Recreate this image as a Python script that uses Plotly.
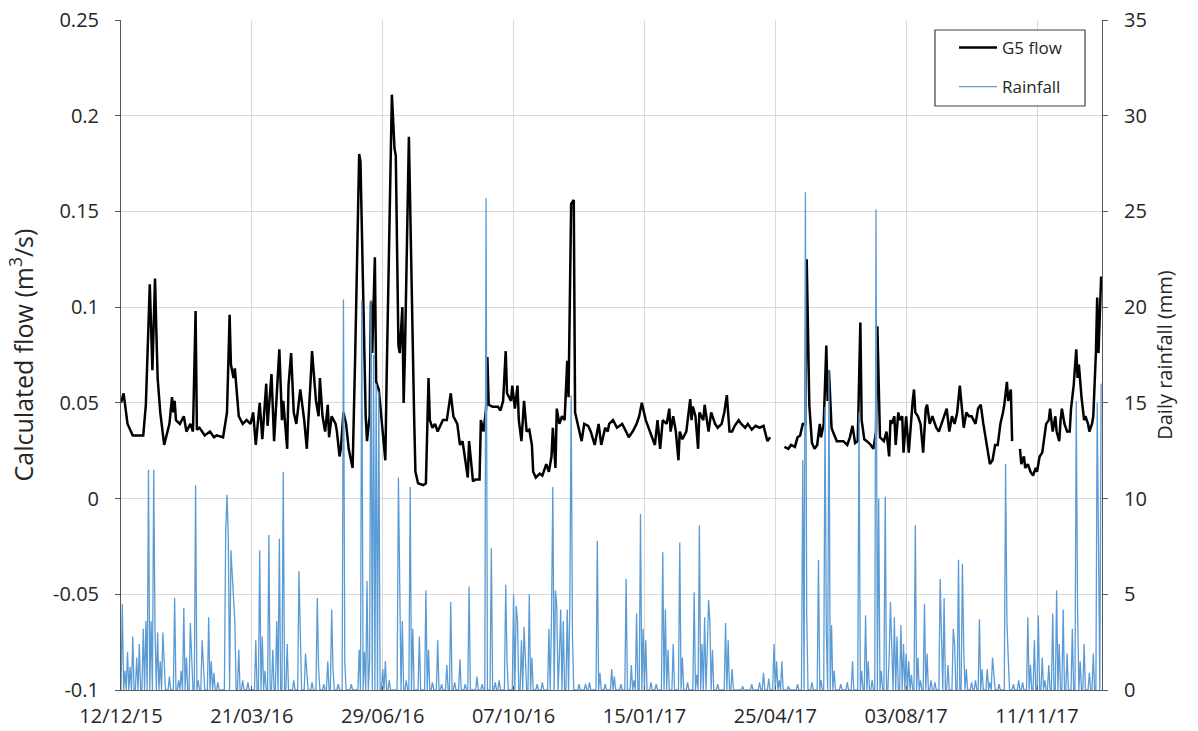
import pandas as pd
import plotly.graph_objects as go

START = "2015-12-12"
END_X = "2017-12-30 16:00"

x_tick_dates = ["2015-12-12", "2016-03-21", "2016-06-29", "2016-10-07",
                "2017-01-15", "2017-04-25", "2017-08-03", "2017-11-11"]
x_tick_text = ["12/12/15", "21/03/16", "29/06/16", "07/10/16",
               "15/01/17", "25/04/17", "03/08/17", "11/11/17"]
y_ticks = [-0.1, -0.05, 0, 0.05, 0.1, 0.15, 0.2, 0.25]
y_tick_text = ["-0.1", "-0.05", "0", "0.05", "0.1", "0.15", "0.2", "0.25"]
y2_ticks = [0, 5, 10, 15, 20, 25, 30, 35]

# G5 flow (m3/s): day offset from 12/12/15, value (None = gap in record)
flow_day = [0, 2, 5, 9, 13, 17, 19, 22, 24, 26, 27, 28, 30, 33, 37, 39, 40, 41, 42, 45,
            48, 50, 53, 55, 57, 58, 60, 64, 68, 71, 73, 78, 81, 83, 84, 86, 87, 90, 93, 96,
            99, 101, 103, 106, 108, 111, 112, 115, 117, 119,
            121, 123, 124, 127, 128, 130, 132, 134, 137, 140, 142, 145, 146, 149, 151, 152, 154, 156, 158, 159,
            161, 164, 165, 167, 168, 170, 172, 174, 177, 179, 182, 183, 187, 188, 190, 191, 192, 194, 195, 197,
            200, 202, 203, 207, 209, 210, 212, 213, 215, 216, 217, 220, 224, 225, 227, 231, 233, 235, 236, 238,
            240, 242, 246,
            249, 252, 254, 257, 259, 261, 263, 265, 266, 267, 269, 271, 274, 275, 277, 279, 280, 281, 284, 288,
            290, 292, 294, 295, 298, 299, 301, 303, 304, 306, 308, 310, 312, 314, 315, 317, 320, 322, 325, 327,
            329, 330, 332, 333, 335, 337, 339, 341, 342, 344, 346, 347, 349, 352, 354, 357, 359, 362, 365, 367,
            370, 372,
            373, 376, 379, 383, 386, 388, 391, 394, 396, 398, 401, 404, 406, 408, 410, 412, 414, 417, 419, 420,
            422, 424, 426, 427, 429, 432, 435, 436, 437, 439, 441, 442, 445, 446, 449, 451, 454, 456, 459, 461,
            463, 465, 467, 469, 472, 474, 477, 479, 482, 485, 488, 491, 494, 496, 500,
            507, 510, 512, 515, 517, 519, 521, 523, 524, 526, 528, 530, 532, 534, 535, 537, 539, 540, 541, 543,
            544, 547, 550, 552, 555, 557, 559, 561, 563, 565, 566, 568, 570, 573, 575, 577, 578, 580, 583, 585,
            587, 588, 589, 591, 592, 594, 595, 597, 598, 600, 602, 604, 605, 606, 607, 609, 611, 613, 615, 616,
            618, 620, 623, 625,
            628, 631, 633, 635, 637, 639, 641, 643, 644, 646, 648, 650, 653, 655, 657, 659, 660, 662, 664, 666,
            668, 670, 672, 674, 675, 677, 678, 680, 681, 683,
            687, 688, 690, 691, 693, 695, 697, 699, 700, 702, 704, 706, 707, 709, 710, 712, 714, 715, 717, 718,
            719, 721, 723, 725, 726, 728, 730, 731, 732, 734, 736, 737, 739, 740, 742, 743, 745, 746, 747, 749]
flow_val = [0.050, 0.055, 0.039, 0.033, 0.033, 0.033, 0.049, 0.112, 0.067, 0.115, 0.088, 0.063, 0.045, 0.028, 0.039, 0.053, 0.045, 0.051, 0.041, 0.039,
            0.043, 0.035, 0.039, 0.035, 0.098, 0.036, 0.037, 0.033, 0.035, 0.032, 0.033, 0.032, 0.045, 0.096, 0.070, 0.063, 0.068, 0.043, 0.039, 0.041,
            0.039, 0.045, 0.028, 0.050, 0.031, 0.060, 0.038, 0.065, 0.030, 0.055,
            0.078, 0.041, 0.051, 0.026, 0.059, 0.076, 0.045, 0.039, 0.057, 0.041, 0.026, 0.063, 0.077, 0.051, 0.043, 0.063, 0.043, 0.035, 0.049, 0.032,
            0.043, 0.039, 0.035, 0.022, 0.026, 0.045, 0.039, 0.026, 0.016, 0.076, 0.180, 0.176, 0.043, 0.030, 0.043, 0.103, 0.076, 0.126, 0.061, 0.057,
            0.035, 0.020, 0.063, 0.211, 0.183, 0.179, 0.080, 0.076, 0.100, 0.050, 0.076, 0.189, 0.043, 0.014, 0.008, 0.007, 0.008, 0.063, 0.041, 0.037,
            0.039, 0.035, 0.041,
            0.041, 0.055, 0.043, 0.039, 0.028, 0.030, 0.020, 0.011, 0.030, 0.022, 0.009, 0.010, 0.010, 0.041, 0.035, 0.047, 0.074, 0.049, 0.048, 0.048,
            0.046, 0.051, 0.077, 0.055, 0.051, 0.059, 0.047, 0.059, 0.041, 0.030, 0.051, 0.035, 0.036, 0.028, 0.014, 0.011, 0.013, 0.012, 0.018, 0.014,
            0.022, 0.037, 0.016, 0.047, 0.039, 0.043, 0.041, 0.072, 0.053, 0.154, 0.156, 0.045, 0.039, 0.030, 0.039, 0.038, 0.035, 0.028, 0.039, 0.028,
            0.037, 0.035,
            0.039, 0.041, 0.037, 0.039, 0.035, 0.032, 0.035, 0.039, 0.043, 0.050, 0.041, 0.035, 0.032, 0.028, 0.041, 0.026, 0.041, 0.039, 0.047, 0.035,
            0.043, 0.035, 0.020, 0.035, 0.031, 0.035, 0.052, 0.041, 0.048, 0.043, 0.026, 0.045, 0.041, 0.049, 0.035, 0.045, 0.039, 0.037, 0.039, 0.045,
            0.054, 0.035, 0.035, 0.038, 0.041, 0.039, 0.037, 0.039, 0.036, 0.038, 0.037, 0.038, 0.030, 0.032, None,
            0.027, 0.026, 0.028, 0.027, 0.032, 0.033, 0.039, 0.039, 0.125, 0.049, 0.029, 0.026, 0.028, 0.039, 0.032, 0.039, 0.080, 0.051, 0.067, 0.037,
            0.035, 0.030, 0.030, 0.030, 0.028, 0.032, 0.038, 0.029, 0.030, 0.092, 0.041, 0.031, 0.030, 0.028, 0.026, 0.035, 0.090, 0.032, 0.030, 0.035,
            0.022, 0.041, 0.039, 0.043, 0.028, 0.045, 0.041, 0.043, 0.024, 0.043, 0.024, 0.045, 0.051, 0.057, 0.045, 0.043, 0.039, 0.024, 0.047, 0.049,
            0.039, 0.043, 0.037, 0.035,
            0.041, 0.047, 0.035, 0.043, 0.039, 0.045, 0.059, 0.041, 0.037, 0.045, 0.043, 0.043, 0.039, 0.047, 0.049, 0.039, 0.035, 0.028, 0.018, 0.020,
            0.028, 0.028, 0.039, 0.045, 0.049, 0.061, 0.051, 0.057, 0.030, None,
            0.026, 0.018, 0.022, 0.016, 0.018, 0.014, 0.012, 0.016, 0.014, 0.022, 0.024, 0.035, 0.039, 0.041, 0.047, 0.035, 0.043, 0.035, 0.030, 0.041,
            0.047, 0.039, 0.035, 0.035, 0.047, 0.059, 0.078, 0.063, 0.070, 0.053, 0.041, 0.043, 0.039, 0.035, 0.039, 0.043, 0.076, 0.105, 0.076, 0.116]

# Daily rainfall (mm) on rain days: day offset from 12/12/15, amount; other days dry (0)
rain_day = [1, 3, 5, 7, 9, 12, 14, 17, 19, 21, 23, 25, 26, 28, 30, 32, 33, 37, 41, 44,
            46, 48, 50, 53, 54, 57, 59, 62, 63, 67, 69, 71, 74, 80, 81, 82, 84, 85, 86, 87,
            90, 93, 97, 103, 106, 108, 110, 113, 116, 119, 121, 124, 127, 132, 136, 137, 141, 142, 146, 150,
            151, 155, 158, 161, 162, 166, 170, 171, 176, 182, 184, 186, 188, 190, 191, 193, 195, 197, 200, 202,
            205, 212, 213, 215, 218, 221, 223, 228, 233, 235, 238, 242, 245, 249, 252, 255, 259, 263, 266, 272,
            276, 279, 283, 286, 289, 294, 295, 300, 302, 303, 306, 308, 309, 312, 314, 318, 322, 327, 329, 330,
            332, 333, 335, 336, 338, 341, 343, 344, 345, 350, 355, 358, 364, 366, 370, 375, 377, 382, 386, 390,
            392, 394, 397, 399, 401, 405, 409, 414, 416, 418, 422, 427, 429, 433, 438, 440, 442, 444, 446, 448,
            449, 450, 452, 456, 462, 464, 467, 475, 482, 488, 491, 495, 499, 501, 503, 505, 510, 517, 521, 523,
            524, 528, 533, 535, 538, 539, 541, 543, 545, 550, 555, 559, 564, 566, 569, 571, 574, 577, 579, 581,
            584, 587, 588, 589, 591, 593, 596, 598, 600, 602, 604, 607, 609, 611, 614, 616, 619, 622, 626, 627,
            629, 632, 636, 637, 640, 643, 644, 646, 650, 653, 656, 658, 662, 664, 666, 667, 671, 676, 677, 678,
            682, 686, 689, 693, 695, 698, 701, 704, 706, 709, 712, 715, 717, 720, 723, 727, 730, 731, 733, 736,
            740, 743, 746, 747, 749]
rain_mm = [4.5, 1.0, 2.0, 1.2, 2.8, 1.7, 2.4, 3.2, 3.6, 11.5, 3.6, 11.5, 3.2, 3.0, 1.5, 3.0, 1.3, 0.7, 4.8, 0.5,
           1.0, 4.3, 1.7, 3.5, 1.1, 10.7, 0.5, 2.6, 1.1, 3.8, 1.5, 0.9, 0.4, 8.3, 10.2, 7.9, 7.3, 6.3, 4.8, 3.6,
           2.1, 0.5, 0.4, 2.6, 7.3, 2.8, 1.0, 8.1, 2.1, 3.6, 7.9, 11.4, 2.4, 0.5, 6.2, 3.2, 1.9, 1.1, 0.4, 4.8,
           1.1, 0.3, 1.5, 4.2, 1.1, 0.3, 20.4, 1.5, 0.3, 2.1, 20.4, 2.0, 5.7, 1.5, 20.4, 17.5, 16.0, 15.6, 1.1, 1.5,
           0.5, 11.1, 5.2, 3.6, 0.5, 10.6, 3.2, 2.8, 5.2, 2.1, 0.4, 2.6, 0.3, 1.3, 4.6, 0.4, 1.6, 0.3, 5.4, 0.7,
           0.3, 25.7, 7.4, 0.4, 0.5, 5.5, 1.5, 5.0, 4.4, 3.6, 2.6, 3.3, 1.5, 5.0, 1.7, 0.3, 0.4, 3.2, 3.8, 10.6,
           5.2, 4.4, 1.7, 4.2, 3.6, 4.2, 4.5, 15.4, 2.8, 0.3, 0.3, 0.4, 7.8, 0.9, 0.3, 1.1, 0.7, 0.3, 5.8, 1.3,
           0.5, 4.0, 9.2, 3.2, 2.6, 0.4, 0.3, 7.2, 4.2, 2.1, 2.4, 7.7, 1.7, 0.4, 5.1, 0.8, 8.6, 2.4, 3.8, 2.0,
           4.7, 3.6, 2.1, 0.3, 3.5, 2.6, 1.1, 0.2, 0.3, 0.4, 0.9, 0.6, 2.4, 1.5, 0.5, 1.5, 0.2, 0.3, 12.0, 26.0,
           4.0, 0.4, 6.8, 0.5, 14.8, 3.0, 16.7, 3.4, 1.0, 0.3, 0.4, 1.5, 14.5, 1.0, 3.9, 1.5, 0.5, 25.1, 10.0, 1.0,
           10.1, 1.7, 4.6, 2.0, 3.8, 2.8, 3.4, 2.4, 1.9, 1.5, 0.8, 8.6, 1.7, 0.5, 4.5, 1.9, 0.5, 0.4, 5.8, 3.0,
           4.8, 1.3, 3.2, 2.4, 6.8, 6.6, 2.1, 1.1, 0.4, 0.5, 3.7, 1.1, 1.1, 0.4, 1.7, 0.7, 0.3, 11.8, 3.6, 1.7,
           0.3, 0.5, 0.4, 3.8, 1.3, 2.6, 3.9, 1.7, 0.5, 1.3, 4.0, 5.2, 2.4, 4.2, 1.9, 3.2, 15.1, 4.2, 1.5, 2.4,
           0.9, 1.9, 15.0, 5.0, 16.0]
N_DAYS = 750

start = pd.Timestamp(START)
flow_dates = [start + pd.Timedelta(days=d) for d in flow_day]
rain_series = [0.0] * N_DAYS
for d, v in zip(rain_day, rain_mm):
    rain_series[d] = v
rain_dates = [start + pd.Timedelta(days=d) for d in range(N_DAYS)]

FONT = "'Open Sans', Lato, sans-serif"
TXT = "#262626"
GRID = "#d9d9d9"
AXIS = "#595959"

W, H = 1198, 731
ML, MR, MT, MB = 121, 96, 20, 41
PW, PH = W - ML - MR, H - MT - MB


def px_to_paper_x(px):
    return (px - ML) / PW


def px_to_paper_y(py):
    return 1 - (py - MT) / PH


fig = go.Figure()
fig.add_trace(go.Scatter(x=flow_dates, y=flow_val, mode="lines", name="G5 flow",
                         line=dict(color="#000000", width=2.5), connectgaps=False,
                         legendgroup="a"))
fig.add_trace(go.Scatter(x=rain_dates, y=rain_series, mode="lines", name="Rainfall",
                         line=dict(color="#5B9BD5", width=1.3), yaxis="y2",
                         legendgroup="b"))

fig.update_layout(
    width=W, height=H,
    margin=dict(l=ML, r=MR, t=MT, b=MB, autoexpand=False),
    paper_bgcolor="white", plot_bgcolor="white",
    font=dict(family=FONT, size=20, color=TXT),
    showlegend=True,
    legend=dict(x=px_to_paper_x(954), y=px_to_paper_y(30), xanchor="left", yanchor="top",
                bgcolor="rgba(0,0,0,0)", borderwidth=0,
                font=dict(size=17, color=TXT), traceorder="grouped",
                tracegroupgap=14, itemwidth=38),
    shapes=[dict(type="rect", xref="paper", yref="paper", layer="above",
                 x0=px_to_paper_x(935), x1=px_to_paper_x(1085),
                 y0=px_to_paper_y(106), y1=px_to_paper_y(30),
                 line=dict(color="#404040", width=1.2), fillcolor="white")],
    xaxis=dict(type="date", range=[START, END_X], automargin=False,
               tickvals=x_tick_dates, ticktext=x_tick_text,
               showgrid=True, gridcolor=GRID, gridwidth=1,
               showline=True, linecolor=AXIS, linewidth=1,
               ticks="inside", ticklen=4, tickcolor=AXIS,
               ticklabelstandoff=8, zeroline=False, ticklabeloverflow="allow"),
    yaxis=dict(range=[-0.1, 0.25], tickvals=y_ticks, ticktext=y_tick_text, automargin=False,
               showgrid=True, gridcolor=GRID, gridwidth=1, zeroline=False,
               showline=True, linecolor=AXIS, linewidth=1,
               ticks="outside", ticklen=5, tickcolor=AXIS, ticklabelstandoff=12,
               ticklabeloverflow="allow",
               title=dict(text="Calculated flow (m<sup>3</sup>/s)", font=dict(size=25),
                          standoff=12)),
    yaxis2=dict(range=[0, 35], tickvals=y2_ticks, overlaying="y", side="right", automargin=False,
                showgrid=False, zeroline=False,
                showline=True, linecolor=AXIS, linewidth=1,
                ticks="outside", ticklen=5, tickcolor=AXIS, ticklabelstandoff=12,
                ticklabeloverflow="allow",
                title=dict(text="Daily rainfall (mm)", font=dict(size=20), standoff=12)),
)

# remove the browser's default 8 px page margin so the figure fills the window exactly
fig.write_html("out.html", config={"displayModeBar": False},
               post_script="document.body.style.margin='0';")
